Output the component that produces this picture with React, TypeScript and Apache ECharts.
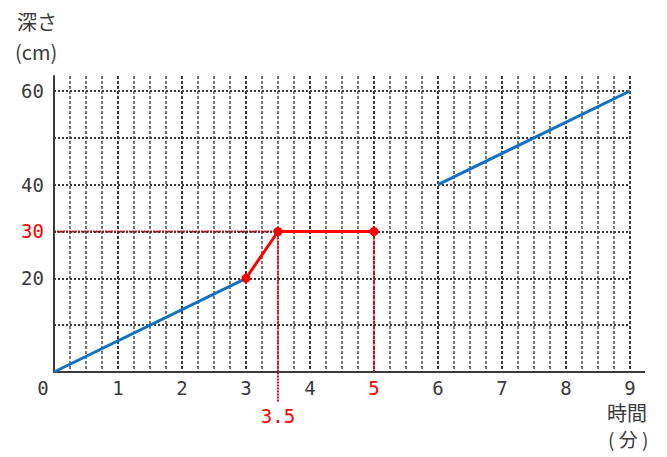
import React, { useEffect, useRef } from "react";
import * as echarts from "echarts";

const blueFirst: [number, number][] = [[0, 0], [3, 20]];
const redPart: [number, number][] = [[3, 20], [3.5, 30], [5, 30]];
const blueSecond: [number, number][] = [[6, 40], [9, 60]];
const gridYValues = [10, 20, 30, 40, 50, 60];
const yLabelValues = [20, 30, 40, 60];
const redYLabels = [30];
const redXLabels = [5];
const guideH: [number, number][] = [[0, 30], [5, 30]];
const guideV5: [number, number][] = [[5, 30], [5, 0]];
const guideV35: [number, number][] = [[3.5, 30], [3.5, -6.4]];
const xLabelText = "3.5";

const DARK = "#3a3a3a";
const GRAY = "#777777";
const RED = "#ff0000";
const BLUE = "#1271c0";
const NUM_FONT = "'DejaVu Sans Mono', monospace";
const JP_FONT = "'Noto Sans CJK JP', sans-serif";

export default function App() {
  const ref = useRef<HTMLDivElement>(null);
  useEffect(() => {
    if (!ref.current) return;
    const chart = echarts.init(ref.current, null, { renderer: "svg" });
    const numStyle = { fontFamily: NUM_FONT, fontSize: 19, lineHeight: 20 };
    chart.setOption({
      animation: false,
      backgroundColor: "#ffffff",
      grid: { left: 54, right: 37, top: 76, bottom: 85, containLabel: false },
      xAxis: {
        type: "value",
        min: 0,
        max: 9,
        interval: 0.25,
        axisLine: { show: true, onZero: false, lineStyle: { color: DARK, width: 2 } },
        axisTick: { show: false },
        splitLine: {
          show: true,
          lineStyle: { color: [DARK, GRAY, GRAY, GRAY], width: 2, type: [3, 2] },
        },
        axisLabel: {
          margin: 6,
          ...numStyle,
          color: DARK,
          formatter: (v: number) => {
            if (Math.abs(v - Math.round(v)) > 1e-6) return "";
            if (v === 0) return "{z|0}";
            if (redXLabels.indexOf(v) >= 0) return `{r|${v}}`;
            return `{d|${v}}`;
          },
          rich: {
            z: { padding: [0, 22, 0, 0], ...numStyle, color: DARK },
            r: { ...numStyle, color: RED },
            d: { ...numStyle, color: DARK },
          },
        },
      },
      yAxis: {
        type: "value",
        min: 0,
        max: 63.2,
        interval: 10,
        axisLine: { show: true, lineStyle: { color: DARK, width: 2 } },
        axisTick: { show: false },
        splitLine: { show: false },
        axisLabel: {
          margin: 10,
          ...numStyle,
          color: DARK,
          formatter: (v: number) => {
            if (yLabelValues.indexOf(v) < 0) return "";
            return redYLabels.indexOf(v) >= 0 ? `{r|${v}}` : `{d|${v}}`;
          },
          rich: {
            r: { ...numStyle, color: RED },
            d: { ...numStyle, color: DARK },
          },
        },
      },
      series: [
        {
          type: "line",
          data: [],
          silent: true,
          z: 1,
          markLine: {
            silent: true,
            symbol: "none",
            label: { show: false },
            lineStyle: { color: DARK, width: 2, type: [2, 2] },
            data: gridYValues.map((y) => ({ yAxis: y })),
          },
        },
        {
          type: "line",
          data: guideH,
          symbol: "none",
          z: 3,
          lineStyle: { color: RED, width: 2, type: [2, 1] },
        },
        {
          type: "line",
          data: guideV5,
          symbol: "none",
          z: 3,
          lineStyle: { color: RED, width: 2, type: [2, 1] },
        },
        {
          type: "line",
          data: [
            { value: guideV35[0] },
            {
              value: guideV35[1],
              label: {
                show: true,
                position: "bottom",
                distance: 4,
                formatter: xLabelText,
                color: RED,
                ...numStyle,
              },
            },
          ],
          symbol: "circle",
          symbolSize: 0.1,
          showSymbol: true,
          clip: false,
          z: 3,
          itemStyle: { color: "rgba(0,0,0,0)" },
          lineStyle: { color: RED, width: 2, type: [2, 1] },
        },
        {
          type: "line",
          data: blueFirst,
          symbol: "none",
          z: 5,
          lineStyle: { color: BLUE, width: 3 },
        },
        {
          type: "line",
          data: blueSecond,
          symbol: "none",
          z: 5,
          lineStyle: { color: BLUE, width: 3 },
        },
        {
          type: "line",
          data: redPart,
          symbol: "circle",
          symbolSize: 9,
          showSymbol: true,
          z: 6,
          itemStyle: { color: RED },
          lineStyle: { color: RED, width: 3 },
        },
      ],
      graphic: [
        { type: "line", shape: { x1: 629, y1: 372, x2: 645, y2: 372 }, style: { stroke: DARK, lineWidth: 2 } },
        { type: "text", left: 17, top: 11, style: { text: "深さ", font: `20px ${JP_FONT}`, fill: DARK } },
        { type: "text", left: 15, top: 41, style: { text: "(cm)", font: `20px ${JP_FONT}`, fill: DARK } },
        { type: "text", left: 607, top: 402, style: { text: "時間", font: `20px ${JP_FONT}`, fill: DARK } },
        { type: "text", left: 608, top: 429, style: { text: "( 分 )", font: `19px ${JP_FONT}`, fill: DARK } },
      ],
    });
    return () => chart.dispose();
  }, []);
  return (
    <div
      ref={ref}
      style={{ position: "fixed", left: 0, top: 0, width: 667, height: 457, background: "#fff" }}
    />
  );
}
